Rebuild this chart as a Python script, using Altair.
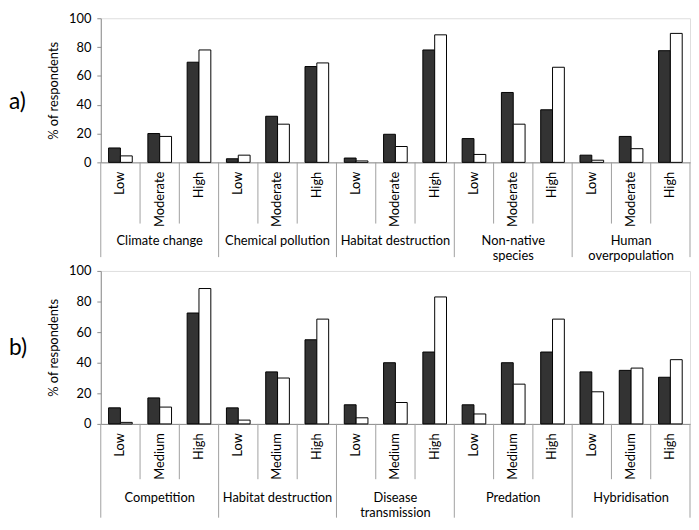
import altair as alt
import pandas as pd

# ---------------- data ----------------
groups_a = ["Climate change", "Chemical pollution", "Habitat destruction",
            "Non-native\nspecies", "Human\noverpopulation"]
levels_a = ["Low", "Moderate", "High"]
dark_a = [10, 20, 69.5, 2.5, 32, 66.5, 3, 19.5, 78, 16.5, 48.5, 36.5, 5, 18, 77.5]
white_a = [4.5, 18, 78, 5, 26.5, 69, 1, 11, 88.5, 5.5, 26.5, 66, 1.5, 9.5, 89.5]

groups_b = ["Competition", "Habitat destruction", "Disease\ntransmission",
            "Predation", "Hybridisation"]
levels_b = ["Low", "Medium", "High"]
dark_b = [10.5, 17, 72.5, 10.5, 34, 55, 12.5, 40, 47, 12.5, 40, 47, 34, 35, 30.5]
white_b = [1, 11, 88.5, 2.5, 30, 68.5, 4, 14, 83, 6.5, 26, 68.5, 21, 36.5, 42]

y_ticks = [0, 20, 40, 60, 80, 100]
series = ["dark", "white"]
series_colors = ["#333333", "#ffffff"]

FONT = "Lato"
GRAY = "#8c8c8c"
SEP = "#a0a0a0"
W = 597


def panel(tag, tag_dy, groups, levels, dark, white, H, short_len, long_len, glabel_y, lh):
    keys = [f"{gi}{li}|{lv}" for gi in range(len(groups)) for li, lv in enumerate(levels)]
    rows = []
    for k, d, w in zip(keys, dark, white):
        rows.append({"key": k, "series": "dark", "value": d})
        rows.append({"key": k, "series": "white", "value": w})
    bars_df = pd.DataFrame(rows)

    def X(bp=None):
        kw = dict(
            sort=keys,
            scale=alt.Scale(paddingInner=0, paddingOuter=0),
            axis=alt.Axis(title=None, labelAngle=270, ticks=False, labelPadding=9,
                          labelExpr="split(datum.label, '|')[1]",
                          domainColor=GRAY, labelFont=FONT, labelFontSize=13,
                          labelColor="#000"),
        )
        if bp is not None:
            kw["bandPosition"] = bp
        return alt.X("key:N", **kw)

    bars = alt.Chart(bars_df).mark_bar(stroke="#000", strokeWidth=1).encode(
        x=X(),
        xOffset=alt.XOffset("series:N", sort=series,
                            scale=alt.Scale(paddingInner=0, paddingOuter=0.66)),
        y=alt.Y("value:Q", scale=alt.Scale(domain=[0, 100]),
                axis=alt.Axis(values=y_ticks, grid=False, title="% of respondents",
                              tickSize=4, tickColor=GRAY, domainColor=GRAY,
                              labelFont=FONT, labelFontSize=13, labelColor="#000",
                              labelPadding=6,
                              titleFont=FONT, titleFontSize=13, titleFontWeight="normal",
                              titleColor="#000", titlePadding=8)),
        color=alt.Color("series:N", scale=alt.Scale(domain=series, range=series_colors),
                        legend=None),
    )

    short_df = pd.DataFrame({"key": [k for i, k in enumerate(keys) if i % len(levels) != 0]})
    long_df = pd.DataFrame({"key": [k for i, k in enumerate(keys) if i % len(levels) == 0]})
    end_df = pd.DataFrame({"key": [keys[-1]]})

    short_rules = alt.Chart(short_df).mark_rule(color=SEP, strokeWidth=1).encode(
        x=X(0), y=alt.value(H), y2=alt.value(H + short_len))
    long_rules = alt.Chart(long_df).mark_rule(color=SEP, strokeWidth=1).encode(
        x=X(0), y=alt.value(H), y2=alt.value(H + long_len))
    end_rule = alt.Chart(end_df).mark_rule(color=SEP, strokeWidth=1).encode(
        x=X(1), y=alt.value(H), y2=alt.value(H + long_len))

    glab_df = pd.DataFrame({
        "key": [keys[gi * len(levels) + 1] for gi in range(len(groups))],
        "label": groups,
    })
    glabels = alt.Chart(glab_df).mark_text(
        font=FONT, fontSize=13, color="#000", baseline="top", lineBreak="\n", lineHeight=lh
    ).encode(x=X(), y=alt.value(H + glabel_y), text="label:N")

    tag_df = pd.DataFrame({"t": [tag]})
    tag_text = alt.Chart(tag_df).mark_text(
        font=FONT, fontSize=23, color="#000", align="left", baseline="middle"
    ).encode(x=alt.value(-93), y=alt.value(H / 2 + tag_dy), text="t:N")

    return alt.layer(bars, short_rules, long_rules, end_rule, glabels, tag_text).properties(
        width=W, height=H)


pa = panel("a)", 12, groups_a, levels_a, dark_a, white_a, 146, 62, 96, 74, 15)
pb = panel("b)", 1, groups_b, levels_b, dark_b, white_b, 155, 56, 95, 69, 15)

chart = alt.vconcat(pa, pb, spacing=0).properties(
    padding={"left": 0, "top": 0, "right": 0, "bottom": 0}
).configure_view(stroke=None).configure(background="white")

chart.save("out.html", embed_options={"renderer": "svg", "actions": False})
